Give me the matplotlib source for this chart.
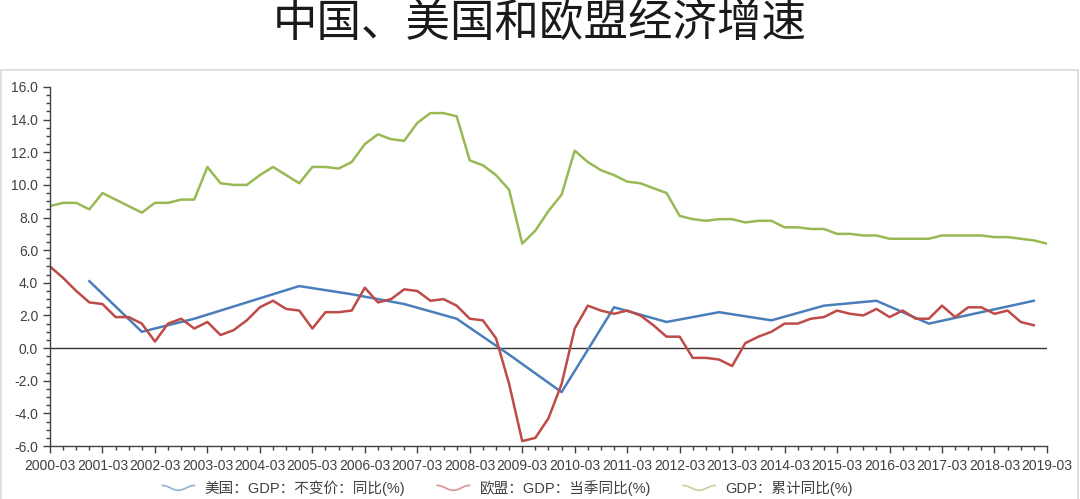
import numpy as np
import pandas as pd
import matplotlib
matplotlib.use("Agg")
import matplotlib.pyplot as plt
from matplotlib.lines import Line2D
from matplotlib.legend_handler import HandlerBase
from matplotlib.patches import Rectangle
from matplotlib.ticker import MultipleLocator, FormatStrFormatter

plt.rcParams['font.family'] = ['Liberation Sans', 'Noto Sans CJK SC', 'DejaVu Sans']

# quarters 2000Q1 .. 2019Q1
quarters = pd.period_range('2000Q1', '2019Q1', freq='Q')
tick_years = list(range(2000, 2020))
tick_labels = [f'{y}-03' for y in tick_years]

# China GDP cumulative yoy (%), 2000-03 .. 2019-03
china = [8.7, 8.9, 8.9, 8.5,
         9.5, 9.1, 8.7, 8.3,
         8.9, 8.9, 9.1, 9.1,
         11.1, 10.1, 10.0, 10.0,
         10.6, 11.1, 10.6, 10.1,
         11.1, 11.1, 11.0, 11.4,
         12.5, 13.1, 12.8, 12.7,
         13.8, 14.4, 14.4, 14.2,
         11.5, 11.2, 10.6, 9.7,
         6.4, 7.2, 8.4, 9.4,
         12.1, 11.4, 10.9, 10.6,
         10.2, 10.1, 9.8, 9.5,
         8.1, 7.9, 7.8, 7.9,
         7.9, 7.7, 7.8, 7.8,
         7.4, 7.4, 7.3, 7.3,
         7.0, 7.0, 6.9, 6.9,
         6.7, 6.7, 6.7, 6.7,
         6.9, 6.9, 6.9, 6.9,
         6.8, 6.8, 6.7, 6.6,
         6.4]

# EU GDP quarterly yoy (%), 2000-03 .. 2018-12
eu = [5.0, 4.3, 3.5, 2.8,
      2.7, 1.9, 1.9, 1.5,
      0.4, 1.5, 1.8, 1.2,
      1.6, 0.8, 1.1, 1.7,
      2.5, 2.9, 2.4, 2.3,
      1.2, 2.2, 2.2, 2.3,
      3.7, 2.8, 3.0, 3.6,
      3.5, 2.9, 3.0, 2.6,
      1.8, 1.7, 0.6, -2.2,
      -5.7, -5.5, -4.3, -2.2,
      1.2, 2.6, 2.3, 2.1,
      2.3, 2.0, 1.4, 0.7,
      0.7, -0.6, -0.6, -0.7,
      -1.1, 0.3, 0.7, 1.0,
      1.5, 1.5, 1.8, 1.9,
      2.3, 2.1, 2.0, 2.4,
      1.9, 2.3, 1.8, 1.8,
      2.6, 1.9, 2.5, 2.5,
      2.1, 2.3, 1.6, 1.4]

# US GDP constant price yoy (%), annual, plotted at December
us_years = list(range(2000, 2019))
us = [4.1, 1.0, 1.8, 2.8, 3.8, 3.3, 2.7, 1.8, -0.4, -2.7,
      2.5, 1.6, 2.2, 1.7, 2.6, 2.9, 1.5, 2.2, 2.9]

labels = ['美国：GDP：不变价：同比(%)', '欧盟：GDP：当季同比(%)', 'GDP：累计同比(%)']
colors = ['#4a7ebb', '#be4b48', '#98b954']

x_all = np.arange(len(quarters))
us_x = [quarters.get_loc(pd.Period(f'{y}Q4', freq='Q')) for y in us_years]

fig = plt.figure(figsize=(10.8, 4.99), dpi=100)
ax = fig.add_axes([0.0463, 0.1062, 0.9231, 0.7195])

ax.plot(us_x, us, color=colors[0], lw=1.8)
ax.plot(x_all[:len(eu)], eu, color=colors[1], lw=1.8)
ax.plot(x_all[:len(china)], china, color=colors[2], lw=1.8)
ax.axhline(0, color='#333333', lw=1.0, zorder=0)

ax.set_ylim(-6, 16)
ax.set_xlim(0, len(quarters) - 1)
ax.yaxis.set_major_locator(MultipleLocator(2))
ax.yaxis.set_minor_locator(MultipleLocator(0.5))
ax.yaxis.set_major_formatter(FormatStrFormatter('%.1f'))
ax.set_xticks([quarters.get_loc(pd.Period(f'{y}Q1', freq='Q')) for y in tick_years])
ax.set_xticklabels(tick_labels)
ax.xaxis.set_minor_locator(MultipleLocator(1))

for s in ['top', 'right']:
    ax.spines[s].set_visible(False)
for s in ['left', 'bottom']:
    ax.spines[s].set_color('#404040')
    ax.spines[s].set_linewidth(1.0)
ax.tick_params(axis='both', which='major', length=5, width=1, color='#404040',
               labelsize=10, labelcolor='#404040')
ax.tick_params(axis='both', which='minor', length=3, width=1, color='#404040')
ax.tick_params(axis='x', pad=4)


class WaveHandler(HandlerBase):
    def create_artists(self, legend, orig_handle, xdescent, ydescent,
                       width, height, fontsize, trans):
        t = np.linspace(0, 1, 40)
        xs = -xdescent + t * width
        ys = -ydescent + height / 2 - height * 0.3 * np.sin(np.pi * (2 * t - 0.5)) * 0.8
        ln = Line2D(xs, ys, color=orig_handle.get_color(), lw=1.2, alpha=0.6)
        ln.set_transform(trans)
        return [ln]


handles = [Line2D([], [], color=c) for c in colors]
fig.legend(handles, labels, loc='center', bbox_to_anchor=(0.47, 0.022), ncol=3,
           frameon=False, fontsize=10.5, handlelength=2.2, handletextpad=0.7,
           columnspacing=2.2, handler_map={Line2D: WaveHandler()},
           labelcolor='#404040')

fig.text(0.5, 0.955, '中国、美国和欧盟经济增速', ha='center', va='center',
         fontsize=32, family=['Noto Sans CJK SC'], color='#1a1a1a')

fig.patches.append(Rectangle((0.001, -0.02), 0.997, 0.88, transform=fig.transFigure,
                             fill=False, edgecolor='#d9d9d9', lw=1.2))

fig.savefig('out.png', dpi=100)
